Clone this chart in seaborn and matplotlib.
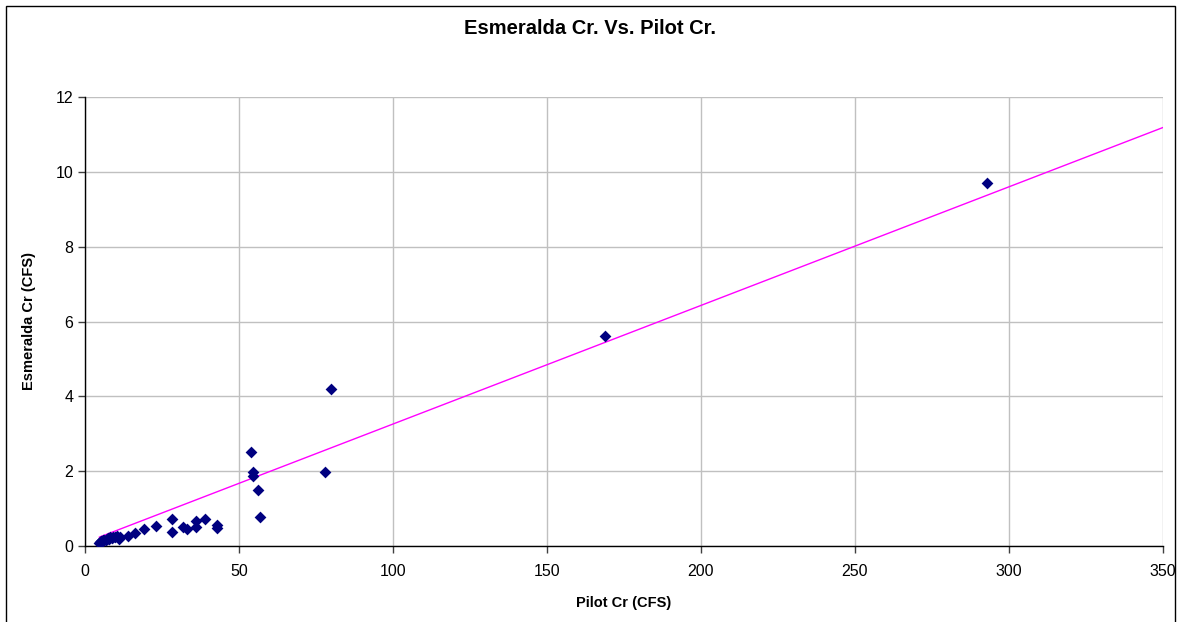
import numpy as np
import pandas as pd
import matplotlib
matplotlib.use("Agg")
import matplotlib.pyplot as plt
import seaborn as sns

# Pilot Cr vs Esmeralda Cr flows (CFS)
pilot = [4.6, 5.0, 5.3, 5.6, 6.0, 6.3, 6.7, 7.0, 7.4, 7.8, 8.2, 8.7, 9.2, 9.8, 10.5,
         11.4, 11.0, 14.1, 16.1, 19.2, 23.0, 28.1, 28.1, 31.9, 33.0, 36.0, 36.0,
         39.1, 42.8, 42.8, 53.9, 54.6, 54.6, 56.1, 56.9, 77.8, 79.9, 168.8, 292.9]
esmeralda = [0.09, 0.11, 0.13, 0.12, 0.15, 0.17, 0.16, 0.19, 0.21, 0.2, 0.23, 0.22,
             0.25, 0.24, 0.27, 0.25, 0.19, 0.27, 0.34, 0.45, 0.53, 0.73, 0.38, 0.52,
             0.45, 0.67, 0.52, 0.73, 0.55, 0.47, 2.50, 1.99, 1.88, 1.50, 0.77, 1.99,
             4.20, 5.61, 9.71]

# linear trendline as shown on the chart
trend_slope = 0.0317
trend_intercept = 0.09
trend_x = [4.6, 350]

df = pd.DataFrame({"Pilot Cr (CFS)": pilot, "Esmeralda Cr (CFS)": esmeralda})

sns.set_style("white")
plt.rcParams["font.family"] = ["Liberation Sans", "DejaVu Sans"]
plt.rcParams["text.color"] = "black"
plt.rcParams["axes.labelcolor"] = "black"
plt.rcParams["xtick.color"] = "black"
plt.rcParams["ytick.color"] = "black"

fig = plt.figure(figsize=(11.79, 6.22), dpi=100)
ax = fig.add_axes([85 / 1179, 1 - 546 / 622, (1163 - 85) / 1179, (546 - 97) / 622])

xs = np.array(trend_x)
ax.plot(xs, trend_slope * xs + trend_intercept, color="#ff00ff", lw=1, zorder=2)

sns.scatterplot(data=df, x="Pilot Cr (CFS)", y="Esmeralda Cr (CFS)", marker="D",
                color="#000080", s=36, edgecolor="#000080", linewidth=0, ax=ax, zorder=3)

ax.set_xlim(0, 350)
ax.set_ylim(0, 12)
ax.set_xticks(range(0, 351, 50))
ax.set_yticks(range(0, 13, 2))
ax.grid(True, color="#c0c0c0", lw=1)
ax.set_axisbelow(True)
for s in ["top", "right"]:
    ax.spines[s].set_visible(False)
for s in ["left", "bottom"]:
    ax.spines[s].set_color("black")
    ax.spines[s].set_linewidth(1)
ax.tick_params(axis="both", direction="out", length=5, width=1, color="#404040",
               labelsize=11.5, labelcolor="black", bottom=True, left=True)
ax.tick_params(axis="x", pad=8)
ax.set_xlabel("Pilot Cr (CFS)", fontsize=10.5, fontweight="bold", labelpad=12)
ax.set_ylabel("Esmeralda Cr (CFS)", fontsize=10.5, fontweight="bold", labelpad=14)
fig.text(0.5, 1 - 28 / 622, "Esmeralda Cr. Vs. Pilot Cr.", ha="center", va="center",
         fontsize=14.5, fontweight="bold")

# outer chart frame
fig.patches.append(plt.Rectangle((6 / 1179, -0.01), 1 - 10 / 1179, 1 - 6 / 622 + 0.01,
                                 transform=fig.transFigure, fill=False,
                                 edgecolor="black", lw=1))

fig.savefig("out.png", dpi=100)
